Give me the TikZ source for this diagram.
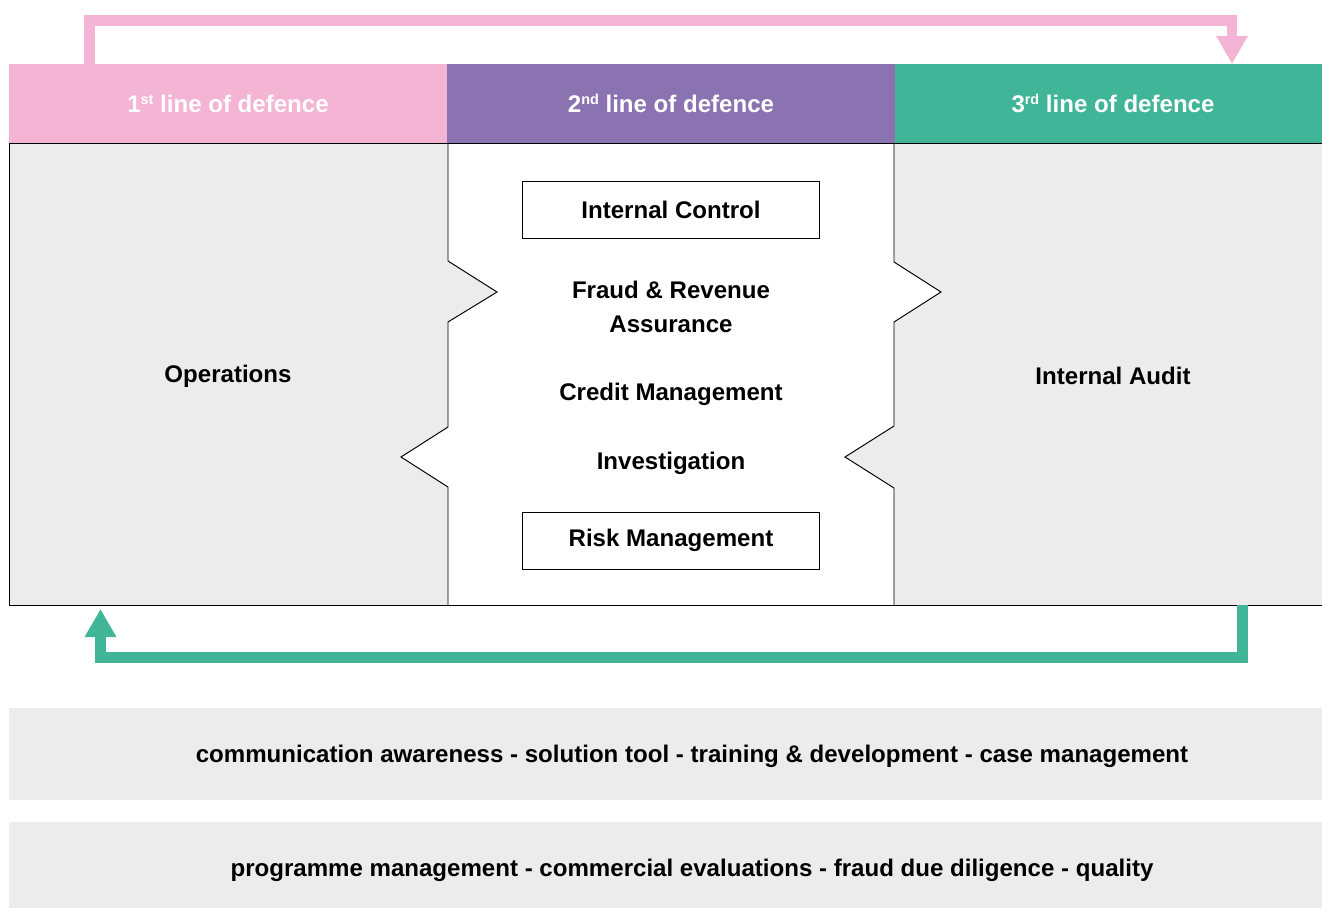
\documentclass[tikz,border=0pt]{standalone}
\usepackage{fontspec}
\setmainfont{Liberation Sans}
\usetikzlibrary{arrows.meta,positioning}
\definecolor{lodpink}{HTML}{F4B4D4}
\definecolor{lodpurple}{HTML}{8A73B0}
\definecolor{lodgreen}{HTML}{40B597}
\definecolor{lodgrey}{HTML}{ECECEC}
\newcommand\ordsfx[1]{\raisebox{0.62ex}{\fontsize{8.2}{9}\selectfont #1}}

\begin{document}
\begin{tikzpicture}[x=0.02cm,y=-0.02cm,
  every node/.style={font=\fontsize{13.7}{19.3}\selectfont\bfseries},
  hdr/.style={minimum height=1.58cm,inner sep=0pt,text=white},
  itembox/.style={draw,line width=0.55pt,minimum width=5.96cm,minimum height=1.14cm},
  flow/.style={line width=6.2pt,-{Triangle[length=16pt,width=17pt]}}]
  \useasboundingbox (0,0) rectangle (1322,907);
  % header band
  \foreach \i/\x/\w/\col/\sfx in {1/228/8.76/lodpink/st,2/671/8.96/lodpurple/nd,3/1113/8.72/lodgreen/rd}
    \node[hdr,fill=\col,minimum width=\w cm] (hdr\i) at (\x,103.5) {\i\ordsfx{\sfx} line of defence};
  % grey fields with notches
  \fill[lodgrey] (9,143) -- (448,143) -- (448,261) -- (497,292) -- (448,322) -- (448,427) -- (401,457) -- (448,487) -- (448,605) -- (9,605) -- cycle;
  \fill[lodgrey] (1340,143) -- (894,143) -- (894,262) -- (941,292) -- (894,322) -- (894,426) -- (845,457) -- (894,488) -- (894,605) -- (1340,605) -- cycle;
  \draw[line width=0.55pt] (1340,143) -- (9,143) -- (9,605) -- (1340,605);
  \draw[line width=0.55pt] (448,143) -- (448,261) -- (497,292) -- (448,322) -- (448,427) -- (401,457) -- (448,487) -- (448,605);
  \draw[line width=0.55pt] (894,143) -- (894,262) -- (941,292) -- (894,322) -- (894,426) -- (845,457) -- (894,488) -- (894,605);
  % columns
  \node (ops) at (228,376) {Operations};
  \node (audit) at (1113,376) {Internal Audit};
  \node[itembox] (ictrl) at (671,209.5) {Internal Control};
  \node[align=center] (fraud) at (671,306.5) {Fraud \& Revenue\\Assurance};
  \node (credit) at (671,394) {Credit Management};
  \node (invest) at (671,463) {Investigation};
  \node[itembox] (riskm) at (671,540.5) {Risk Management};
  % feedback arrows
  \coordinate (pstart) at (89.5,64);
  \coordinate (pend) at (1232,64);
  \draw[flow,lodpink] (pstart) -- ++(0,-43.5) -| (pend);
  \coordinate (gstart) at (1242.5,605);
  \coordinate (gend) at (100.5,609);
  \draw[flow,lodgreen] (gstart) -- ++(0,52.5) -| (gend);
  % bottom bars
  \fill[lodgrey] (9,708) rectangle (1340,800);
  \fill[lodgrey] (9,822) rectangle (1340,910);
  \node (tasks) at (692,756) {communication awareness - solution tool - training \& development - case management};
  \node (services) at (692,870) {programme management - commercial evaluations - fraud due diligence - quality};
\end{tikzpicture}
\end{document}
